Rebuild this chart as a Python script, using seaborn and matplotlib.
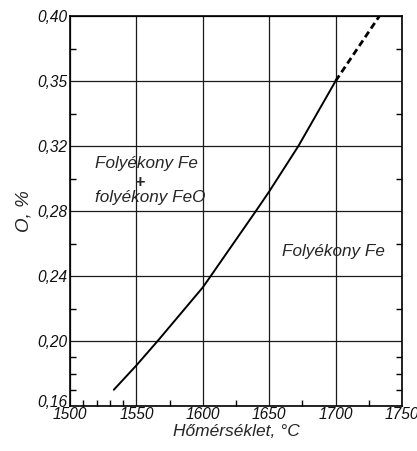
import matplotlib
matplotlib.use("Agg")
import matplotlib.pyplot as plt
import matplotlib.transforms as mtransforms
import seaborn as sns
import numpy as np
import pandas as pd

# Data
temp_solid = [1533, 1550, 1566, 1600, 1606, 1640, 1650, 1672, 1700]
oxygen_solid = [0.170, 0.185, 0.200, 0.233, 0.240, 0.280, 0.292, 0.320, 0.360]
temp_dashed = [1700, 1733]
oxygen_dashed = [0.360, 0.400]

x_ticks = [1500, 1550, 1600, 1650, 1700, 1750]
x_tick_labels = ["1500", "1550", "1600", "1650", "1700", "1750"]
y_ticks = [0.16, 0.20, 0.24, 0.28, 0.32, 0.36, 0.40]
y_tick_labels = ["0,16", "0,20", "0,24", "0,28", "0,32", "0,35", "0,40"]
x_minor = [1510, 1520, 1530, 1540, 1575, 1625, 1675, 1725]
y_minor = [0.17, 0.18, 0.19, 0.22, 0.26, 0.30, 0.34, 0.38]

sns.set_style("white")
plt.rcParams['font.family'] = ['Liberation Sans', 'DejaVu Sans']
plt.rcParams['font.style'] = 'italic'

fig = plt.figure(figsize=(4.17, 4.51), dpi=100)
ax = fig.add_axes([70/417, 45/451, 332/417, 390/451])

df_s = pd.DataFrame({"T": temp_solid, "O": oxygen_solid})
df_d = pd.DataFrame({"T": temp_dashed, "O": oxygen_dashed})
sns.lineplot(data=df_s, x="T", y="O", ax=ax, color="black", lw=1.4, sort=False)
sns.lineplot(data=df_d, x="T", y="O", ax=ax, color="black", lw=2.0, sort=False,
             linestyle=(0, (2.4, 1.4)))

ax.set_xlim(1500, 1750)
ax.set_ylim(0.16, 0.40)
ax.set_xticks(x_ticks)
ax.set_xticklabels(x_tick_labels)
ax.set_yticks(y_ticks)
ax.set_yticklabels(y_tick_labels)
ax.set_xticks(x_minor, minor=True)
ax.set_yticks(y_minor, minor=True)

ax.grid(True, which="major", color="#1a1a1a", lw=0.9)
for s in ax.spines.values():
    s.set_color("black")
    s.set_linewidth(1.2)

ax.tick_params(axis="both", which="major", length=0, labelsize=11.2, pad=2,
               labelcolor="#111111")
ax.tick_params(axis="x", which="major", pad=1)
ax.tick_params(axis="x", which="minor", direction="in", length=4.5, width=1,
               bottom=True, top=False, color="black")
ax.tick_params(axis="y", which="minor", direction="in", length=4.5, width=1,
               left=True, right=True, color="black")

# raise the lowest y label slightly, as in the reference
lab0 = ax.get_yticklabels()[0]
lab0.set_transform(lab0.get_transform() +
                   mtransforms.ScaledTranslation(0, 5/100, fig.dpi_scale_trans))

ax.set_xlabel("Hőmérséklet, °C", fontsize=12.5, labelpad=1, style="italic")
ax.set_ylabel("O, %", fontsize=13.5, labelpad=3, style="italic")

ax.text(1518.5, 0.3095, "Folyékony Fe", fontsize=12.3, ha="left", va="center", style="italic")
ax.text(1552.5, 0.2975, "+", fontsize=12.5, ha="center", va="center", style="italic",
        fontweight="bold")
ax.text(1518.5, 0.2885, "folyékony FeO", fontsize=12.3, ha="left", va="center", style="italic")
ax.text(1660, 0.2548, "Folyékony Fe", fontsize=12.3, ha="left", va="center", style="italic")

fig.savefig("out.png", dpi=100)
